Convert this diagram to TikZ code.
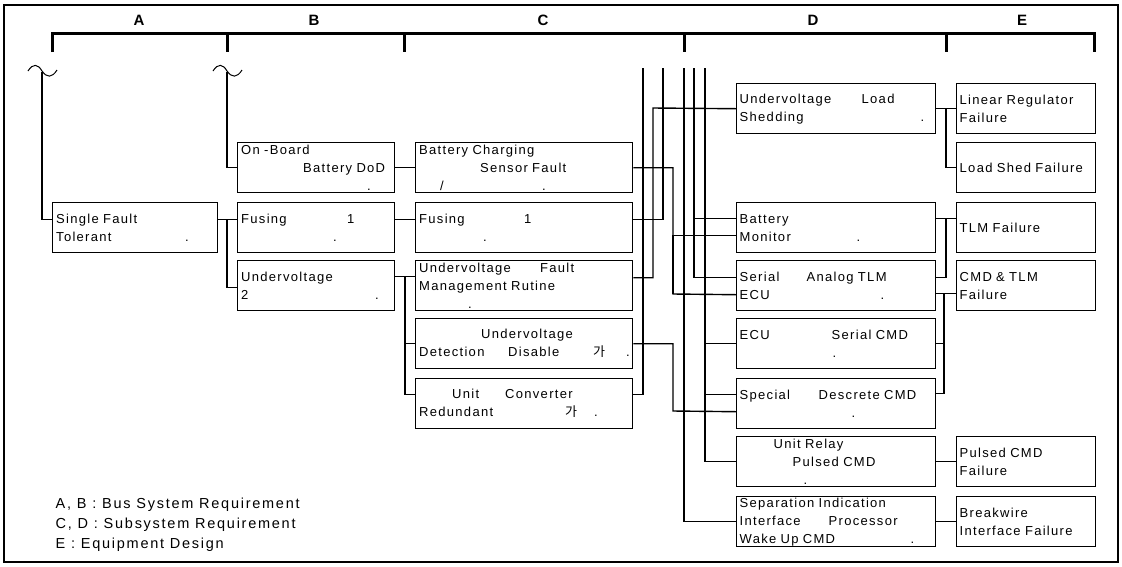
\documentclass[tikz,border=0pt]{standalone}
\usepackage{fontspec}
\setmainfont{Liberation Sans}
\newfontfamily\boxfont[LetterSpace=10]{Liberation Sans}
\newfontfamily\legendfont[LetterSpace=12]{Liberation Sans}
\newfontfamily\kofont{Noto Sans CJK KR}

\newcommand\wordat[2]{\leavevmode\rlap{\hspace*{#1pt}#2}}

\begin{document}
\begin{tikzpicture}[
    x=1pt, y=-1pt,
    line width=1.4pt,
    box/.style={
        rectangle,
        draw=black,
        anchor=north west,
        align=left,
        inner xsep=3pt,
        inner ysep=0pt,
        minimum height=50pt,
        font=\boxfont\fontsize{13pt}{18pt}\selectfont
    },
    colA/.style={box, minimum width=165pt, text width=158pt},
    colB/.style={box, minimum width=157pt, text width=150pt},
    colC/.style={box, minimum width=217pt, text width=210pt},
    colD/.style={box, minimum width=199pt, text width=193pt},
    colE/.style={box, minimum width=139pt, text width=133pt},
    bracket/.style={line width=3pt},
    colhead/.style={font=\bfseries\fontsize{15pt}{15pt}\selectfont},
    legendtext/.style={anchor=north west, align=left, inner sep=0pt,
        font=\legendfont\fontsize{14.5pt}{20pt}\selectfont}
]
\useasboundingbox (0,0) rectangle (1122,566);
\draw[line width=1.2pt] (4,5) rectangle (1118,562);

\foreach \l/\x in {A/139,B/314,C/543,D/813,E/1022}
    \node[colhead] (head\l) at (\x,20) {\l};
\draw[bracket] (52,52) |- (1094,33) -- (1094,52);
\foreach \x in {227,404,684,946}
    \draw[bracket] (\x,33) -- (\x,52);

\foreach \x in {42,227}
    \draw[line width=1pt] (\x-14,71) .. controls (\x-9,63) and (\x-4,64) .. (\x,71)
        .. controls (\x+5,78) and (\x+10,78) .. (\x+15,70);
\coordinate (brkA) at (42,72);
\coordinate (brkB) at (227,72);

\node[colA] (sft) at (52,202) {Single Fault\\\wordat{0}{Tolerant}\wordat{129}{.}};

\node[colB] (obB) at (237,142) {\wordat{0}{On -Board}\\\wordat{62}{Battery DoD}\\\wordat{126}{.}};
\node[colB] (fusB) at (237,202) {\wordat{0}{Fusing}\wordat{106}{1}\\\wordat{92}{.}};
\node[colB] (uvB) at (237,260) {Undervoltage\\\wordat{0}{2}\wordat{134}{.}};

\node[colC] (bcC) at (415,142) {Battery Charging\\\wordat{61}{Sensor Fault}\\\wordat{21}{/}\wordat{123}{.}};
\node[colC] (fusC) at (415,202) {\wordat{0}{Fusing}\wordat{105}{1}\\\wordat{64}{.}};
\node[colC] (uvfC) at (415,260) {\wordat{0}{Undervoltage}\wordat{121}{Fault}\\Management Rutine\\\wordat{49}{.}};
\node[colC] (uvdC) at (415,318) {\wordat{62}{Undervoltage}\\\wordat{0}{Detection}\wordat{89}{Disable}\wordat{174}{{\kofont 가}}\wordat{207}{.}};
\node[colC] (ucC) at (415,378) {\wordat{33}{Unit}\wordat{86}{Converter}\\\wordat{0}{Redundant}\wordat{146}{{\kofont 가}}\wordat{175}{.}};

\node[colD] (uvlD) at (736,83) {\wordat{0}{Undervoltage}\wordat{122}{Load}\\\wordat{0}{Shedding}\wordat{181}{.}};
\node[colD] (bmD) at (736,202) {Battery\\\wordat{0}{Monitor}\wordat{117}{.}};
\node[colD] (salD) at (736,260) {\wordat{0}{Serial}\wordat{67}{Analog TLM}\\\wordat{0}{ECU}\wordat{141}{.}};
\node[colD] (ecuD) at (736,318) {\wordat{0}{ECU}\wordat{92}{Serial CMD}\\\wordat{93}{.}};
\node[colD] (sdD) at (736,378) {\wordat{0}{Special}\wordat{79}{Descrete CMD}\\\wordat{112}{.}};
\node[colD] (urD) at (736,436) {\wordat{34}{Unit Relay}\\\wordat{53}{Pulsed CMD}\\\wordat{64}{.}};
\node[colD] (sepD) at (736,496) {Separation Indication\\\wordat{0}{Interface}\wordat{89}{Processor}\\\wordat{0}{Wake Up CMD}\wordat{171}{.}};

\node[colE] (lrE) at (956,83) {Linear Regulator\\Failure};
\node[colE] (lsE) at (956,142) {Load Shed Failure};
\node[colE] (tlmE) at (956,202) {TLM Failure};
\node[colE] (ctE) at (956,260) {CMD \& TLM\\Failure};
\node[colE] (pcE) at (956,436) {Pulsed CMD\\Failure};
\node[colE] (bwE) at (956,496) {Breakwire\\Interface Failure};

\node[legendtext] (legend) at (55,497) {A, B : Bus System Requirement\\C, D : Subsystem Requirement\\E : Equipment Design};

\coordinate (feedA) at (643,68);
\coordinate (feedB) at (663,68);
\coordinate (feedC) at (684,68);
\coordinate (feedD) at (694,68);
\coordinate (feedE) at (705,68);
\coordinate (busUVL) at (653,108);
\coordinate (busBC) at (673,294);
\coordinate (busDD) at (673,411);

\draw (brkA) |- ([yshift=8pt]sft.west);
\draw (brkB) |- (obB.west);
\draw ([yshift=8pt]sft.east) -- ([yshift=8pt]fusB.west);
\draw ([yshift=8pt,xshift=-10pt]fusB.west) |- ([yshift=-2pt]uvB.west);

\draw (obB.east) -- (bcC.west);
\draw ([yshift=8pt]fusB.east) -- ([yshift=8pt]fusC.west);
\draw ([yshift=9pt]uvB.east) -- ([yshift=9pt]uvfC.west);
\draw ([yshift=9pt,xshift=-10pt]uvfC.west) |- (uvdC.west);
\draw ([yshift=9pt,xshift=-10pt]uvfC.west) |- ([yshift=9pt]ucC.west);

\draw (feedA) |- ([yshift=9pt]ucC.east);
\draw ([yshift=8pt]uvfC.east) -| (busUVL) -- (uvlD.west);
\draw (feedB) |- ([yshift=8pt]fusC.east);
\draw (bcC.east) -| (busBC) -- ([yshift=-9pt]salD.west);
\draw ([yshift=-8pt]bmD.west) -| (busBC);
\draw (uvdC.east) -| (busDD) -- ([yshift=-8pt]sdD.west);
\draw (feedC) |- (sepD.west);
\draw (feedD) |- ([yshift=8pt]salD.west);
\draw ([yshift=9pt]bmD.west) -| (feedD);
\draw (feedE) |- (urD.west);
\draw (ecuD.west) -| (feedE);
\draw ([yshift=9pt]sdD.west) -| (feedE);

\draw (uvlD.east) -- (lrE.west);
\draw ([xshift=-10pt]lrE.west) |- (lsE.west);
\draw ([yshift=9pt]bmD.east) -- ([yshift=9pt]tlmE.west);
\draw ([yshift=9pt,xshift=-10pt]tlmE.west) |- ([yshift=8pt]salD.east);
\draw ([yshift=-8pt]salD.east) -- ([yshift=-8pt]ctE.west);
\draw ([yshift=-8pt,xshift=-12pt]ctE.west) |- (ecuD.east);
\draw ([yshift=-8pt,xshift=-12pt]ctE.west) |- ([yshift=10pt]sdD.east);
\draw (urD.east) -- (pcE.west);
\draw (sepD.east) -- (bwE.west);

\end{tikzpicture}
\end{document}
